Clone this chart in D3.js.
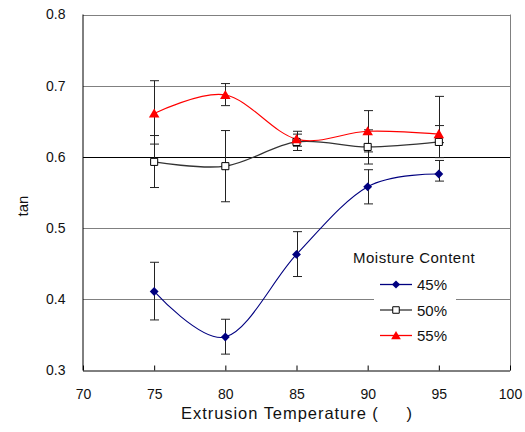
<!DOCTYPE html>
<html><head><meta charset="utf-8">
<script src="https://cdn.jsdelivr.net/npm/d3@7"></script>
<style>body{margin:0;background:#fff}svg{display:block}text{font-family:"Liberation Sans",Arial,sans-serif;fill:#111}</style>
</head><body><svg id="c" width="525" height="432"></svg>
<script>
const temps = [75, 80, 85, 90, 95];
const xTicks = [70, 75, 80, 85, 90, 95, 100];
const yTicks = [0.3, 0.4, 0.5, 0.6, 0.7, 0.8];
const seriesNames = ["45%", "50%", "55%"];
const m45 = [0.411, 0.347, 0.463, 0.558, 0.576];
const m45Lo = [0.371, 0.323, 0.432, 0.534, 0.566];
const m45Hi = [0.452, 0.372, 0.495, 0.582, 0.595];
const m50 = [0.593, 0.587, 0.621, 0.614, 0.621];
const m50Lo = [0.557, 0.537, 0.609, 0.590, 0.599];
const m50Hi = [0.630, 0.637, 0.636, 0.638, 0.685];
const m55 = [0.661, 0.687, 0.625, 0.636, 0.632];
const m55Lo = [0.618, 0.672, 0.615, 0.607, 0.620];
const m55Hi = [0.707, 0.703, 0.632, 0.665, 0.644];

const L = 83, R = 510, T = 14.5, B = 370.5;
const svg = d3.select("#c");
const x = d3.scaleLinear().domain([70, 100]).range([L, R]);
const y = d3.scaleLinear().domain([0.3, 0.8]).range([B, T]);

// gridlines
svg.append("g").selectAll("line").data(yTicks.filter(d => d > 0.3)).join("line")
  .attr("x1", L).attr("x2", R).attr("y1", d => Math.round(y(d)) + 0.5).attr("y2", d => Math.round(y(d)) + 0.5)
  .attr("stroke", d => Math.abs(d - 0.6) < 1e-6 ? "#000" : "#808080").attr("stroke-width", 1);
// right border
svg.append("line").attr("x1", R + 0.5).attr("x2", R + 0.5).attr("y1", T).attr("y2", B).attr("stroke", "#808080");

// axes
const xAxis = d3.axisBottom(x).tickValues(xTicks).tickSize(-5).tickPadding(0).tickFormat(d3.format("d"));
const gx = svg.append("g").attr("transform", `translate(0,${B})`).call(xAxis);
gx.select(".domain").attr("d", `M${L},0.5H${R}`).attr("stroke", "#000");
gx.selectAll(".tick line").attr("stroke", "#000");
gx.selectAll(".tick text").attr("y", 28.5).attr("dy", 0).style("font-size", "14px").style("font-family", "Liberation Sans, Arial");

const yAxis = d3.axisLeft(y).tickValues(yTicks).tickSize(0).tickPadding(17).tickFormat(d3.format(".1f"));
const gy = svg.append("g").attr("transform", `translate(${L - 0.5},0)`).call(yAxis);
gy.select(".domain").attr("d", `M0.5,${T}V${B}`).attr("stroke", "#000");
gy.selectAll(".tick text").style("font-size", "14px").style("font-family", "Liberation Sans, Arial");

// axis titles
svg.append("text").attr("x", 181).attr("y", 419).style("font-size", "16.5px").style("white-space", "pre")
  .attr("textLength", 231).attr("lengthAdjust", "spacing")
  .text("Extrusion Temperature (     )");
svg.append("text").attr("transform", "translate(28,206) rotate(-90)").attr("text-anchor", "middle")
  .style("font-size", "15px").text("tan");

const series = [
  {name: seriesNames[0], v: m45, lo: m45Lo, hi: m45Hi, color: "#000080", sym: d3.symbolDiamond2, fill: "#000080", stroke: "none", size: 50, dy: 0},
  {name: seriesNames[1], v: m50, lo: m50Lo, hi: m50Hi, color: "#333", sym: d3.symbolSquare, fill: "#fff", stroke: "#000", size: 50, dy: 0},
  {name: seriesNames[2], v: m55, lo: m55Lo, hi: m55Hi, color: "#ff0000", sym: d3.symbolTriangle, fill: "#ff0000", stroke: "none", size: 48, dy: 1}
];

// error bars
series.forEach(s => {
  const g = svg.append("g").attr("stroke", "#222").attr("stroke-width", 1);
  temps.forEach((t, i) => {
    const cx = Math.round(x(t)) + 0.5;
    g.append("line").attr("x1", cx).attr("x2", cx).attr("y1", y(s.lo[i])).attr("y2", y(s.hi[i]));
    [s.lo[i], s.hi[i]].forEach(v => g.append("line").attr("x1", cx - 4.5).attr("x2", cx + 4.5).attr("y1", y(v)).attr("y2", y(v)));
  });
});

// lines
const line = d3.line().x((d, i) => x(temps[i])).y(d => y(d)).curve(d3.curveCardinal.tension(0));
series.forEach(s => {
  svg.append("path").attr("d", line(s.v)).attr("fill", "none").attr("stroke", s.color).attr("stroke-width", s.name === "50%" ? 1.3 : 1.1);
});
// markers
series.forEach(s => {
  svg.append("g").selectAll("path").data(s.v).join("path")
    .attr("transform", (d, i) => `translate(${x(temps[i])},${y(d) + s.dy})`)
    .attr("d", d3.symbol().type(s.sym).size(s.size))
    .attr("fill", s.fill).attr("stroke", s.stroke).attr("stroke-width", 1);
});

// legend
svg.append("text").attr("x", 353).attr("y", 263).style("font-size", "15px").style("letter-spacing", "0.5px").text("Moisture Content");
svg.append("rect").attr("x", 374).attr("y", 272).attr("width", 82).attr("height", 76).attr("fill", "#fff");
series.forEach((s, i) => {
  const ly = 284.5 + i * 25.5;
  svg.append("line").attr("x1", 380).attr("x2", 412).attr("y1", ly).attr("y2", ly).attr("stroke", s.color).attr("stroke-width", 1.3);
  svg.append("path").attr("transform", `translate(396,${ly + s.dy})`)
    .attr("d", d3.symbol().type(s.sym).size(s.size * 0.85))
    .attr("fill", s.fill).attr("stroke", s.stroke);
  svg.append("text").attr("x", 417).attr("y", ly + 5.5).style("font-size", "15px").text(s.name);
});
</script></body></html>
